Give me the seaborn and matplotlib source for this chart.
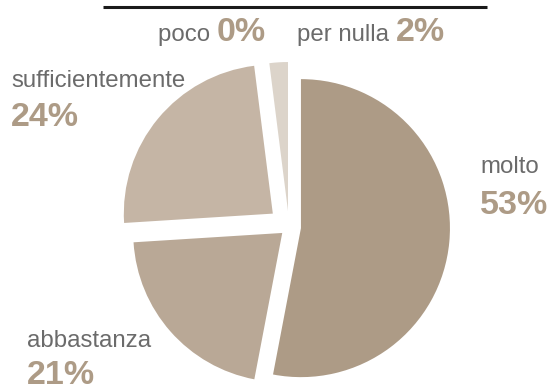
import matplotlib
matplotlib.use("Agg")
import matplotlib.pyplot as plt
import seaborn as sns

# data (clockwise from 12 o'clock)
labels = ["molto", "abbastanza", "sufficientemente", "poco", "per nulla"]
values = [53, 21, 24, 0, 2]
colors = ["#ad9b86", "#b9a896", "#c5b5a5", "#d3c8bb", "#dcd4ca"]
explode = [12, 9, 21, 0, 16]  # pie offsets, in pixels

# label positions in pixels (left x, baseline y of name, baseline y of percent)
label_pos = {
    "molto": (480, 173, 214, False),
    "abbastanza": (27, 347, 384, False),
    "sufficientemente": (11, 87, 126, False),
    "poco": (158, 41, None, True),
    "per nulla": (297, 41, None, True),
}

W, H = 553, 387
sns.set_theme(style="white")
plt.rcParams['font.family'] = ['Liberation Sans', 'DejaVu Sans']

fig = plt.figure(figsize=(W / 100, H / 100), dpi=100)
ax = fig.add_axes([0, 0, 1, 1])

R = 149
cx, cy = 289, 227
ax.pie(values, colors=colors, explode=explode, startangle=90, counterclock=False,
       radius=R, center=(cx, H - cy), wedgeprops=dict(linewidth=0))
ax.set_xlim(0, W)
ax.set_ylim(0, H)
ax.set_aspect('auto')
ax.axis('off')

name_col = "#6b6b6b"
pct_col = "#ad9b86"
lab_fs = 17.3
pct_fs = 24.5

for lab, val in zip(labels, values):
    x, yb, yp, inline = label_pos[lab]
    if inline:
        t = ax.text(x, H - yb, lab + " ", color=name_col, fontsize=lab_fs, va='baseline', ha='left')
        fig.canvas.draw()
        bb = t.get_window_extent()
        ax.text(bb.x1, H - yb, f"{val}%", color=pct_col, fontsize=pct_fs,
                fontweight='bold', va='baseline', ha='left')
    else:
        ax.text(x, H - yb, lab, color=name_col, fontsize=lab_fs, va='baseline', ha='left')
        ax.text(x, H - yp, f"{val}%", color=pct_col, fontsize=pct_fs,
                fontweight='bold', va='baseline', ha='left')

# top rule
ax.plot([103, 487], [H - 7, H - 7], color="#1a1a1a", lw=2.2, solid_capstyle='butt')

fig.savefig("out.png", dpi=100)
